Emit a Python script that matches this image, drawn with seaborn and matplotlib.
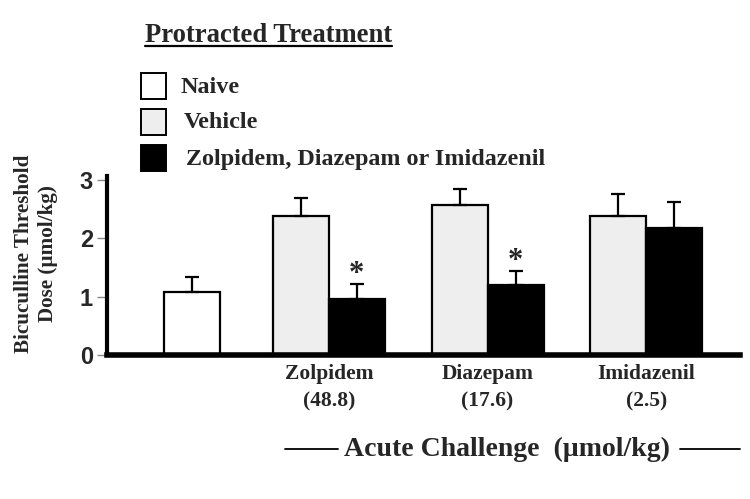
import numpy as np
import pandas as pd
import matplotlib
matplotlib.use("Agg")
import matplotlib.pyplot as plt
import seaborn as sns

# ---- data ----
groups = ["Naive", "Zolpidem", "Zolpidem", "Diazepam", "Diazepam", "Imidazenil", "Imidazenil"]
series = ["Naive", "Vehicle", "Drug", "Vehicle", "Drug", "Vehicle", "Drug"]
means = [1.07, 2.38, 0.96, 2.57, 1.19, 2.38, 2.17]
sems = [0.26, 0.30, 0.26, 0.26, 0.25, 0.37, 0.45]
significant = [False, False, True, False, True, False, False]
drug_names = ["Zolpidem", "Diazepam", "Imidazenil"]
drug_doses = ["(48.8)", "(17.6)", "(2.5)"]
legend_labels = ["Naive", "Vehicle", "Zolpidem, Diazepam or Imidazenil"]
y_ticks = [0, 1, 2, 3]

# ---- layout (bar width = 1 data unit) ----
naive_center = 1.51
first_group = 3.96
group_step = 2.835
positions = []
gi = -1
for g, s in zip(groups, series):
    if s == "Naive":
        positions.append(naive_center)
    else:
        if s == "Vehicle":
            gi += 1
        c = first_group + group_step * gi
        positions.append(c - 0.5 if s == "Vehicle" else c + 0.5)

df = pd.DataFrame({"pos": positions, "mean": means, "sem": sems, "series": series})

colors = {"Naive": "#ffffff", "Vehicle": "#eeeeee", "Drug": "#000000"}

serif = ["Liberation Serif", "DejaVu Serif"]
sans = ["Liberation Sans", "DejaVu Sans"]

sns.set_style("white")
plt.rcParams["font.family"] = serif

fig = plt.figure(figsize=(7.5, 4.99), dpi=100)
ax = fig.add_axes([107 / 750, 1 - 355 / 499, (740 - 107) / 750, (355 - 176) / 499])

sns.barplot(data=df, x="pos", y="mean", hue="series", palette=colors,
            native_scale=True, width=1.0, errorbar=None, dodge=False,
            edgecolor="black", linewidth=1.6, legend=False, ax=ax)

# upper-only error bars
ax.errorbar(df["pos"], df["mean"], yerr=[np.zeros(len(df)), df["sem"]],
            fmt="none", ecolor="black", elinewidth=1.6, capsize=5, capthick=1.6, zorder=3)

for p, m, e, sig in zip(positions, means, sems, significant):
    if sig:
        ax.annotate("*", (p, m + e), xytext=(0, -4), textcoords="offset points",
                    ha="center", va="bottom", fontsize=22, fontweight="bold",
                    family=serif)

ax.set_xlim(0, (740 - 107) / 56)
ax.set_ylim(0, 3.06)
ax.set_yticks(y_ticks)
ax.set_yticklabels([str(t) for t in y_ticks], fontsize=17, fontweight="bold", family=sans)
ax.set_xticks([])
ax.set_xlabel("")
ax.tick_params(axis="y", left=True, length=7, width=1, color="#888888", pad=3)

for side in ["top", "right"]:
    ax.spines[side].set_visible(False)
ax.spines["left"].set_linewidth(3)
ax.spines["bottom"].set_linewidth(4)
ax.spines["left"].set_color("black")
ax.spines["bottom"].set_color("black")

ax.set_ylabel("Bicuculline Threshold\nDose (\u00b5mol/kg)", fontsize=15.2, fontweight="bold",
              family=serif, linespacing=1.25)
ax.yaxis.set_label_coords((58 - 107) / 633, (355 - 254) / 179)

# x category labels
for i, (n, d) in enumerate(zip(drug_names, drug_doses)):
    c = first_group + group_step * i
    xf = (107 + c * 56) / 750
    fig.text(xf, 1 - 374 / 499, n, ha="center", va="center", fontsize=15.5, fontweight="bold", family=serif)
    fig.text(xf, 1 - 401 / 499, d, ha="center", va="center", fontsize=15.5, fontweight="bold", family=serif)

# Acute challenge label with lines
fig.text(507 / 750, 1 - 449 / 499, "Acute Challenge  (\u00b5mol/kg)", ha="center", va="center",
         fontsize=20, fontweight="bold", family=serif)
fig.add_artist(plt.Line2D([285 / 750, 338 / 750], [1 - 449 / 499] * 2, color="black", lw=1.3))
fig.add_artist(plt.Line2D([680 / 750, 740 / 750], [1 - 449 / 499] * 2, color="black", lw=1.3))

# legend
fig.text(145 / 750, 1 - 35 / 499, "Protracted Treatment", ha="left", va="center",
         fontsize=19.2, fontweight="bold", family=serif)
fig.add_artist(plt.Line2D([145 / 750, 392 / 750], [1 - 46 / 499] * 2, color="black", lw=1.6))

leg_boxes_y = [73, 109, 145]
leg_text_x = [181, 184, 186]
leg_colors = [colors["Naive"], colors["Vehicle"], colors["Drug"]]
for lab, yb, tx, col in zip(legend_labels, leg_boxes_y, leg_text_x, leg_colors):
    fig.add_artist(plt.Rectangle((141 / 750, 1 - (yb + 26) / 499), 25 / 750, 26 / 499,
                                 facecolor=col, edgecolor="black", lw=1.4))
    fig.text(tx / 750, 1 - (yb + 14) / 499, lab, ha="left", va="center",
             fontsize=17.4, fontweight="bold", family=serif)

fig.savefig("out.png", dpi=100, facecolor="white")
